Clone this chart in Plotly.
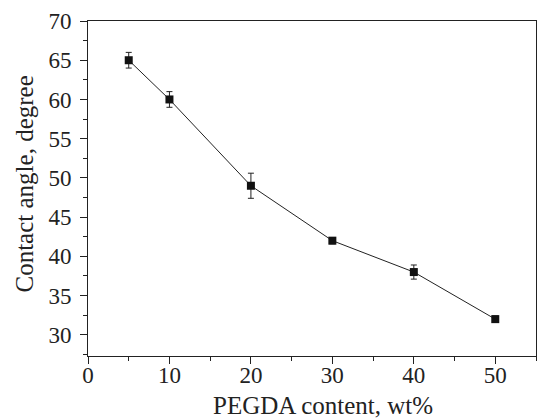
import plotly.graph_objects as go

pegda = [5, 10, 20, 30, 40, 50]
angle = [65, 60, 49, 42, 38, 32]
err = [1.0, 1.0, 1.6, 0.4, 0.9, 0.4]

x_title = "PEGDA content, wt%"
y_title = "Contact angle, degree"

fig = go.Figure()
fig.add_trace(go.Scatter(
    x=pegda, y=angle, mode="lines+markers",
    line=dict(color="#222222", width=1),
    marker=dict(symbol="square", size=8, color="#111111"),
    error_y=dict(type="data", array=err, visible=True, color="#222222", thickness=1, width=3),
    showlegend=False,
))

family = "Liberation Serif, Times New Roman, serif"
tickfont = dict(family=family, size=23, color="#222222")
titlefont = dict(family=family, size=25, color="#222222")
fig.update_layout(
    width=537, height=419,
    margin=dict(l=88, r=1, t=21, b=63),
    paper_bgcolor="white", plot_bgcolor="white",
    font=tickfont,
)
fig.update_xaxes(
    range=[0, 55], dtick=10, tick0=0,
    showline=True, linecolor="#222222", linewidth=1, mirror=True,
    ticks="outside", ticklen=7, tickcolor="#222222",
    minor=dict(dtick=5, ticks="outside", ticklen=4, tickcolor="#222222"),
    showgrid=False, zeroline=False, automargin=False,
    tickfont=tickfont, ticklabelstandoff=-9,
)
fig.update_yaxes(
    range=[27.3, 70], dtick=5, tick0=30,
    showline=True, linecolor="#222222", linewidth=1, mirror=True,
    ticks="outside", ticklen=7, tickcolor="#222222",
    minor=dict(dtick=2.5, ticks="outside", ticklen=4, tickcolor="#222222"),
    showgrid=False, zeroline=False, automargin=False,
    tickfont=tickfont, ticklabelstandoff=4,
)
fig.add_annotation(text=x_title, xref="paper", yref="paper", x=0.5, y=0,
                   xanchor="center", yanchor="middle", xshift=11, yshift=-49,
                   showarrow=False, font=titlefont)
fig.add_annotation(text=y_title, xref="paper", yref="paper", x=0, y=0.5,
                   xanchor="center", yanchor="middle", xshift=-64, yshift=4, textangle=-90,
                   showarrow=False, font=titlefont)
fig.write_html(
    "out.html",
    config={"displayModeBar": False},
    post_script="document.body.style.margin='0';document.body.style.overflow='hidden';",
)
